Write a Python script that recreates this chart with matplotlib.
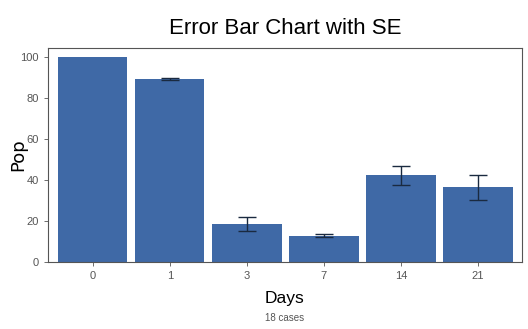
import numpy as np
import matplotlib.pyplot as plt

days = ['0', '1', '3', '7', '14', '21']
pop = [100.0, 89.3, 18.5, 12.8, 42.3, 36.4]
se = [0.0, 0.5, 3.5, 0.8, 4.6, 6.0]
caption = '18 cases'

plt.rcParams['font.family'] = ['Liberation Sans', 'DejaVu Sans']

fig = plt.figure(figsize=(5.28, 3.29), dpi=100)
ax = fig.add_axes([48 / 528, 1 - 262 / 329, (522 - 48) / 528, (262 - 48) / 329])

x = np.arange(len(days))
ax.bar(x, pop, width=0.9, color='#3f69a6', zorder=2)
ax.errorbar(x[1:], pop[1:], yerr=se[1:], fmt='none', ecolor='#1a2a40',
            elinewidth=1.0, capsize=6.5, capthick=1.0, zorder=3)

ax.set_xlim(-0.58, 5.57)
ax.set_ylim(0, 104.4)
ax.set_xticks(x)
ax.set_xticklabels(days)
ax.set_yticks([0, 20, 40, 60, 80, 100])
ax.tick_params(axis='both', labelsize=8, colors='#555555', length=3, width=0.6)
for s in ax.spines.values():
    s.set_color('#555555')
    s.set_linewidth(0.8)

cx = 0.5 * (48 + 522) / 528
fig.text(18 / 528, 1 - 155 / 329, 'Pop', rotation=90, ha='center', va='center',
         fontsize=13, fontfamily='DejaVu Sans')
fig.text(cx, 1 - 298 / 329, 'Days', ha='center', va='center', fontsize=12.5)
fig.text(cx, 1 - 318 / 329, caption, ha='center', va='center',
         fontsize=7, color='#555555')
fig.text(cx, 1 - 29 / 329, 'Error Bar Chart with SE', ha='center',
         va='center', fontsize=16)

fig.savefig('out.png', dpi=100)
